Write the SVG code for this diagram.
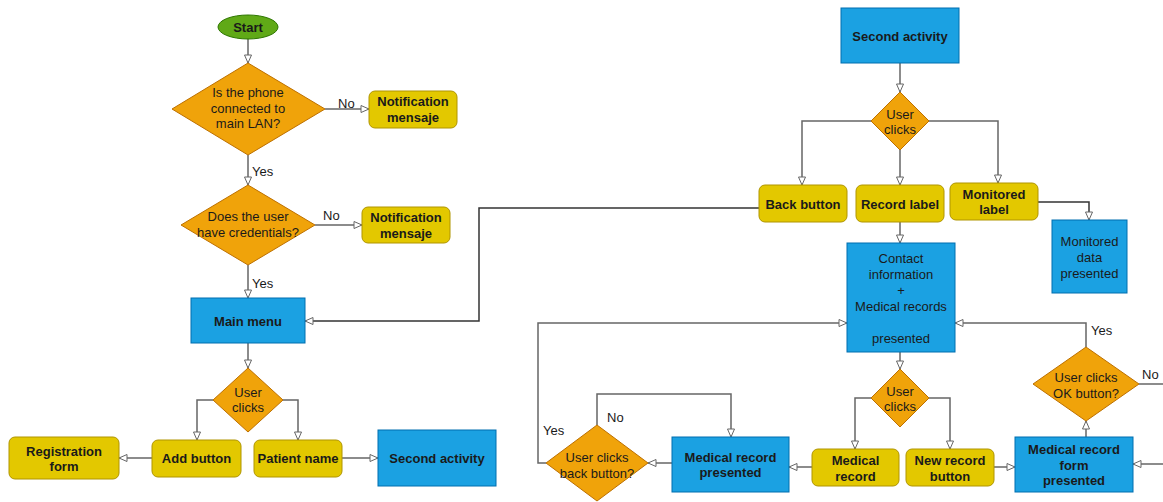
<svg xmlns="http://www.w3.org/2000/svg" width="1163" height="502" viewBox="0 0 1163 502">
<defs>
<marker id="arr" markerUnits="userSpaceOnUse" markerWidth="10" markerHeight="10" refX="9" refY="4.5" orient="auto">
<path d="M1,1 L9,4.5 L1,8 Z" fill="#fff" stroke="#666" stroke-width="1"/>
</marker>
<style>
.t{font-family:"Liberation Sans",Arial,sans-serif;font-size:13px;fill:#1a1a1a;text-anchor:middle}
.b{font-weight:bold}
.l{font-family:"Liberation Sans",Arial,sans-serif;font-size:13px;fill:#1a1a1a}
.dia{fill:#f0a30a;stroke:#bd7000}
.yel{fill:#e3c800;stroke:#b09500}
.blu{fill:#1ba1e2;stroke:#006eaf}
.grn{fill:#60a917;stroke:#2d7600}
.c{fill:none;stroke:#666;stroke-width:1.5;marker-end:url(#arr)}
.d{stroke:#333}
</style>
</defs>
<rect width="1163" height="502" fill="#fff"/>
<g id="connectors">
<path class="c" d="M248,39 V63"/>
<path class="c" d="M325,109 H369"/>
<path class="c" d="M248,155 V185"/>
<path class="c" d="M315,225 H362"/>
<path class="c" d="M248,265 V298"/>
<path class="c" d="M248,343 V368"/>
<path class="c" d="M213,400 H197 V440"/>
<path class="c" d="M283,400 H298 V440"/>
<path class="c" d="M152,458 H119"/>
<path class="c" d="M342,458 H378"/>
<path class="c" d="M900,63 V92"/>
<path class="c" d="M871,121 H802 V185"/>
<path class="c" d="M900,150 V185"/>
<path class="c" d="M929,121 H998 V183"/>
<path class="c d" d="M1038,202 H1089 V220"/>
<path class="c d" d="M759,208 H479 V321 H305"/>
<path class="c" d="M900,222 V243"/>
<path class="c" d="M900,352 V369"/>
<path class="c" d="M871,398 H855 V449"/>
<path class="c" d="M929,398 H950 V449"/>
<path class="c" d="M812,467 H789"/>
<path class="c" d="M672,463 H648"/>
<path class="c" d="M546,463 H538 V323 H847"/>
<path class="c" d="M597,425 V394 H731 V437"/>
<path class="c" d="M994,467 H1015"/>
<path class="c" d="M1086,437 V421"/>
<path class="c" d="M1086,347 V323 H955"/>
<path class="c" style="marker-end:none" d="M1139,384 H1163"/>
<path class="c" d="M1163,464 H1133"/>
<text class="l" x="338" y="108">No</text>
<text class="l" x="252" y="176">Yes</text>
<text class="l" x="323" y="220">No</text>
<text class="l" x="252" y="288">Yes</text>
<text class="l" x="543" y="435">Yes</text>
<text class="l" x="607" y="422">No</text>
<text class="l" x="1091" y="335">Yes</text>
<text class="l" x="1142" y="379">No</text>
</g>
<g id="start"><ellipse class="grn" cx="248" cy="27" rx="30" ry="12"/><text class="t b" x="248" y="32">Start</text></g>
<g id="d1"><polygon class="dia" points="248,63 325,109 248,155 172,109"/><text class="t" x="248" y="97">Is the phone</text><text class="t" x="248" y="113">connected to</text><text class="t" x="248" y="128">main LAN?</text></g>
<g id="n1"><rect class="yel" x="369" y="91" width="88" height="37" rx="6"/><text class="t b" x="413" y="106">Notification</text><text class="t b" x="413" y="122">mensaje</text></g>
<g id="d2"><polygon class="dia" points="248,185 315,225 248,265 181,225"/><text class="t" x="248" y="221">Does the user</text><text class="t" x="248" y="237">have credentials?</text></g>
<g id="n2"><rect class="yel" x="362" y="207" width="88" height="36" rx="6"/><text class="t b" x="406" y="222">Notification</text><text class="t b" x="406" y="238">mensaje</text></g>
<g id="mainmenu"><rect class="blu" x="191" y="298" width="114" height="45"/><text class="t b" x="248" y="326">Main menu</text></g>
<g id="d3"><polygon class="dia" points="248,368 283,400 248,432 213,400"/><text class="t" x="248" y="397">User</text><text class="t" x="248" y="412">clicks</text></g>
<g id="addbutton"><rect class="yel" x="152" y="440" width="89" height="37" rx="6"/><text class="t b" x="196.5" y="463">Add button</text></g>
<g id="patientname"><rect class="yel" x="254" y="440" width="88" height="37" rx="6"/><text class="t b" x="298" y="463">Patient name</text></g>
<g id="regform"><rect class="yel" x="9" y="437" width="110" height="42" rx="6"/><text class="t b" x="64" y="456">Registration</text><text class="t b" x="64" y="471">form</text></g>
<g id="second2"><rect class="blu" x="378" y="430" width="118" height="56"/><text class="t b" x="437" y="463">Second activity</text></g>
<g id="second1"><rect class="blu" x="841" y="8" width="118" height="55"/><text class="t b" x="900" y="41">Second activity</text></g>
<g id="d4"><polygon class="dia" points="900,92 929,121 900,150 871,121"/><text class="t" x="900" y="119">User</text><text class="t" x="900" y="134">clicks</text></g>
<g id="backbutton"><rect class="yel" x="759" y="185" width="88" height="37" rx="6"/><text class="t b" x="803" y="209">Back button</text></g>
<g id="recordlabel"><rect class="yel" x="856" y="185" width="88" height="37" rx="6"/><text class="t b" x="900" y="209">Record label</text></g>
<g id="monitoredlabel"><rect class="yel" x="950" y="183" width="88" height="37" rx="6"/><text class="t b" x="994" y="199">Monitored</text><text class="t b" x="994" y="214">label</text></g>
<g id="monitoreddata"><rect class="blu" x="1052" y="220" width="75" height="73"/><text class="t" x="1089.5" y="246">Monitored</text><text class="t" x="1089.5" y="262">data</text><text class="t" x="1089.5" y="278">presented</text></g>
<g id="contact"><rect class="blu" x="847" y="243" width="108" height="109"/><text class="t" x="901" y="263">Contact</text><text class="t" x="901" y="279">information</text><text class="t" x="901" y="295">+</text><text class="t" x="901" y="311">Medical records</text><text class="t" x="901" y="343">presented</text></g>
<g id="d6"><polygon class="dia" points="900,369 929,398 900,427 871,398"/><text class="t" x="900" y="396">User</text><text class="t" x="900" y="411">clicks</text></g>
<g id="medicalrecord"><rect class="yel" x="812" y="449" width="87" height="37" rx="6"/><text class="t b" x="855.5" y="465">Medical</text><text class="t b" x="855.5" y="481">record</text></g>
<g id="newrecord"><rect class="yel" x="906" y="449" width="88" height="37" rx="6"/><text class="t b" x="950" y="465">New record</text><text class="t b" x="950" y="481">button</text></g>
<g id="mrpresented"><rect class="blu" x="672" y="437" width="117" height="55"/><text class="t b" x="730.5" y="462">Medical record</text><text class="t b" x="730.5" y="477">presented</text></g>
<g id="d5"><polygon class="dia" points="597,425 648,463 597,501 546,463"/><text class="t" x="597" y="462">User clicks</text><text class="t" x="597" y="478">back button?</text></g>
<g id="mrform"><rect class="blu" x="1015" y="437" width="118" height="55"/><text class="t b" x="1074" y="454">Medical record</text><text class="t b" x="1074" y="470">form</text><text class="t b" x="1074" y="485">presented</text></g>
<g id="d7"><polygon class="dia" points="1086,347 1139,384 1086,421 1033,384"/><text class="t" x="1086" y="382">User clicks</text><text class="t" x="1086" y="398">OK button?</text></g>
</svg>
